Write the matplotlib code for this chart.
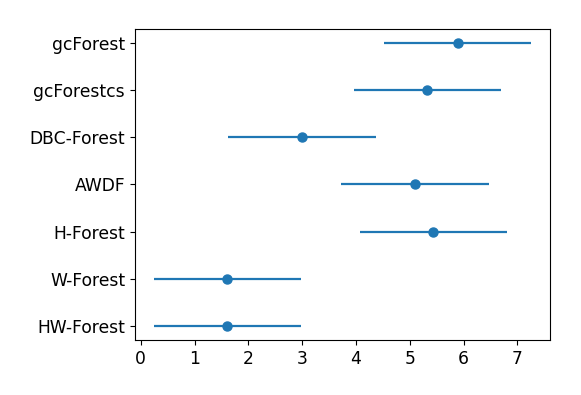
import matplotlib
matplotlib.use('Agg')
import matplotlib.pyplot as plt
import numpy as np

methods = ['gcForest', 'gcForestcs', 'DBC-Forest', 'AWDF', 'H-Forest', 'W-Forest', 'HW-Forest']
avg_rank = [5.89, 5.33, 3.00, 5.10, 5.44, 1.61, 1.61]
cd_half = 1.37

fig = plt.figure(figsize=(5.81, 3.95), dpi=100)
ax = fig.add_axes([0.232, 0.139, 0.715, 0.788])

y = np.arange(len(methods))[::-1]
ax.errorbar(avg_rank, y, xerr=cd_half, fmt='o', color='#1f77b4',
            markersize=6.5, elinewidth=1.6, capsize=0)
ax.set_yticks(y)
ax.set_yticklabels(methods, fontsize=12.3)
ax.set_xticks(range(8))
ax.tick_params(axis='x', labelsize=12.3)

fig.savefig('out.png', dpi=100)
